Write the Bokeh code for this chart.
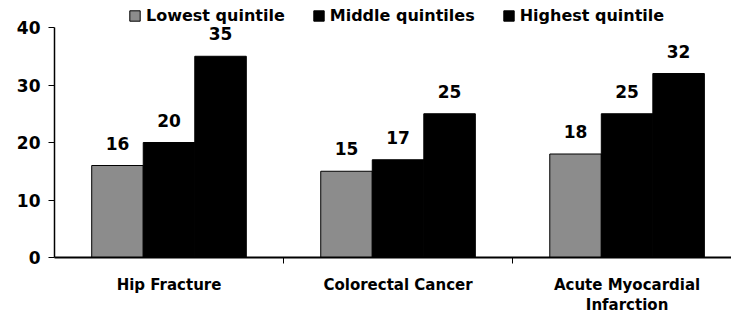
from bokeh.plotting import figure
from bokeh.models import Range1d, FixedTicker, ColumnDataSource, LabelSet, Legend, LegendItem
from bokeh.core.properties import value
from bokeh.embed import file_html
from bokeh.resources import INLINE

categories = ["Hip Fracture", "Colorectal Cancer", "Acute Myocardial\nInfarction"]
series = ["Lowest quintile", "Middle quintiles", "Highest quintile"]
lowest = [16, 15, 18]
middle = [20, 17, 25]
highest = [35, 25, 32]
y_ticks = [0, 10, 20, 30, 40]
colors = ["#8c8c8c", "#000000", "#000000"]

FONT = "DejaVu Sans"
BAR_W = 0.225

p = figure(width=731, height=317, output_backend="svg", toolbar_location=None,
           x_range=Range1d(0, 2.956), y_range=Range1d(0, 44.7),
           min_border_left=54, min_border_right=0, min_border_top=0, min_border_bottom=60)
p.outline_line_color = None
p.xgrid.grid_line_color = None
p.ygrid.grid_line_color = None
p.background_fill_color = "white"

centers = [i + 0.5 for i in range(len(categories))]
renderers = []
for j, (vals, col) in enumerate(zip([lowest, middle, highest], colors)):
    xs = [c + (j - 1) * BAR_W for c in centers]
    src = ColumnDataSource(dict(x=xs, top=vals, lab=[str(v) for v in vals]))
    r = p.vbar(x="x", top="top", width=BAR_W, source=src, fill_color=col,
               line_color="black", line_width=1)
    renderers.append(r)
    p.add_layout(LabelSet(x="x", y="top", text="lab", source=src, y_offset=16,
                          text_align="center", text_baseline="alphabetic",
                          text_font=value(FONT), text_font_style="bold",
                          text_font_size="17px", text_color="black"))

# y axis
ya = p.yaxis[0]
ya.ticker = FixedTicker(ticks=y_ticks)
ya.bounds = (0, 40)
ya.major_tick_out = 6
ya.major_tick_in = 0
ya.minor_tick_out = 0
ya.minor_tick_in = 0
ya.axis_line_width = 1.5
ya.axis_line_color = "black"
ya.major_tick_line_color = "black"
ya.major_label_text_font = FONT
ya.major_label_text_font_style = "bold"
ya.major_label_text_font_size = "17px"
ya.major_label_text_color = "black"
ya.major_label_standoff = 8

# x axis
xa = p.xaxis[0]
xa.ticker = FixedTicker(ticks=centers, minor_ticks=[1, 2])
xa.major_label_overrides = {c: lab for c, lab in zip(centers, categories)}
xa.major_tick_out = 0
xa.major_tick_in = 0
xa.minor_tick_out = 6
xa.minor_tick_in = 0
xa.minor_tick_line_color = "black"
xa.axis_line_width = 2
xa.axis_line_color = "black"
xa.major_label_text_font = FONT
xa.major_label_text_font_style = "bold"
xa.major_label_text_font_size = "15px"
xa.major_label_text_color = "black"
xa.major_label_text_line_height = 1.15
xa.major_label_standoff = 12

legend = Legend(items=[LegendItem(label=s, renderers=[r]) for s, r in zip(series, renderers)],
                orientation="horizontal", location=(74, 232),
                glyph_width=13, glyph_height=13, label_standoff=5, spacing=27,
                padding=2, margin=0, border_line_color=None, background_fill_alpha=0,
                label_text_font=FONT, label_text_font_style="bold",
                label_text_font_size="16px", label_text_color="black",
                label_height=16)
p.add_layout(legend)

open("out.html", "w").write(file_html(p, INLINE))
